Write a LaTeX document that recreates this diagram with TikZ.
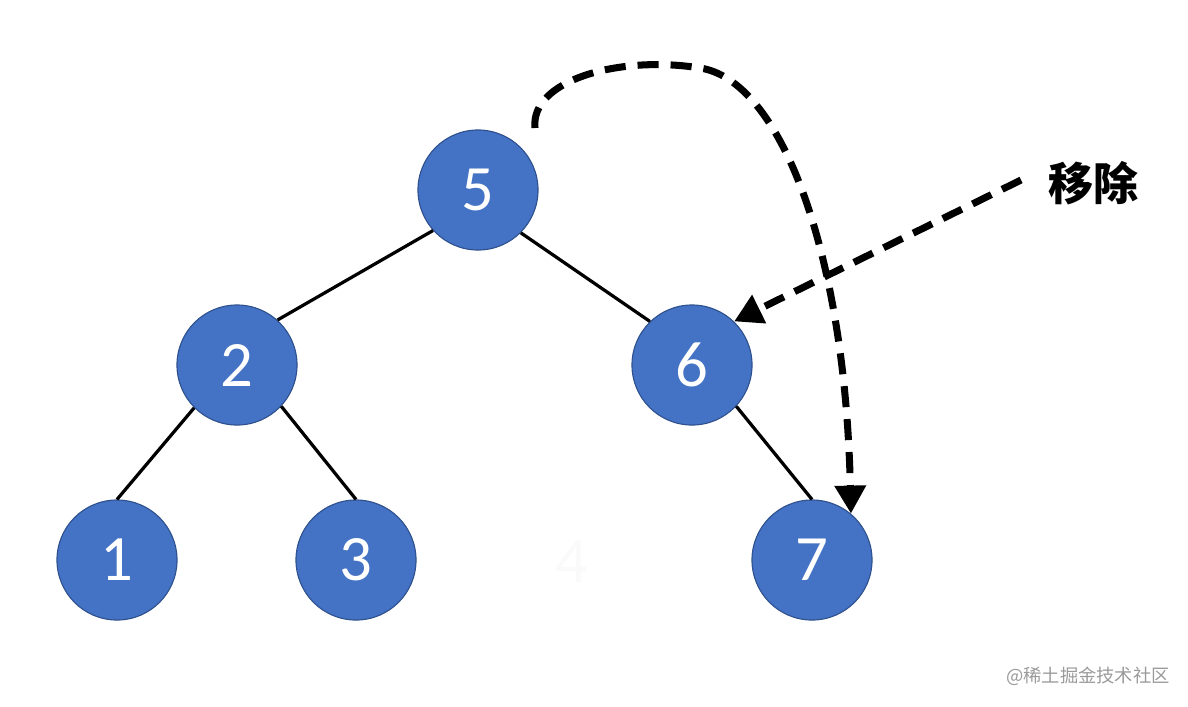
\documentclass[tikz,border=0pt]{standalone}
\usepackage{fontspec}
\usepackage{xcolor}
\usepackage{tikz}
\usetikzlibrary{arrows.meta}
\setmainfont{Carlito}
\newfontfamily\cjk{Noto Sans CJK SC}
\definecolor{nodefill}{HTML}{4472C4}
\definecolor{nodeline}{HTML}{2F528F}
\definecolor{faint}{HTML}{FAFAFA}
\definecolor{wmgray}{HTML}{9A9A9A}

\begin{document}
\begin{tikzpicture}[x=0.025cm, y=-0.025cm,
  key/.style={circle, fill=nodefill, draw=nodeline, line width=0.8pt, minimum size=3cm, inner sep=0pt, text=white, font=\fontsize{46}{46}\selectfont},
  edge/.style={line width=2.3pt},
  move/.style={line width=5pt, dash pattern=on 15pt off 8.5pt, -{Triangle[length=0.7cm, width=0.75cm]}}]
  \useasboundingbox (0,0) rectangle (1188,706);
  \node[key] (n5) at (478,190) {5};
  \node[key] (n2) at (237,365) {2};
  \node[key] (n6) at (692,365) {6};
  \node[key] (n1) at (117,560) {1};
  \node[key] (n3) at (356,560) {3};
  \node[key] (n7) at (812,560) {7};
  \node[text=faint, font=\fontsize{46}{46}\selectfont] (n4) at (572,562) {4};
  \draw[edge] (n5.222) -- (n2.48);
  \draw[edge] (n5.315) -- (n6.134);
  \draw[edge] (n2.225) -- (n1.north);
  \draw[edge] (n2.317) -- (n3.north);
  \draw[edge] (n6.317) -- (n7.north);
  % removal arrows
  \node[font=\cjk\bfseries\fontsize{32}{32}\selectfont] (rm) at (1093,183) {移除};
  \coordinate (top) at (535,128);
  \draw[move] (rm.west) ++(-22,-3) -- (n6.46);
  \draw[move] (top) .. controls (530,80) and (620,55) .. (700,68)
    .. controls (780,80) and (845,250) .. (n7.50);
  \node[text=wmgray, font=\cjk\fontsize{13}{13}\selectfont] (wm) at (1088,676) {@稀土掘金技术社区};
\end{tikzpicture}
\end{document}
